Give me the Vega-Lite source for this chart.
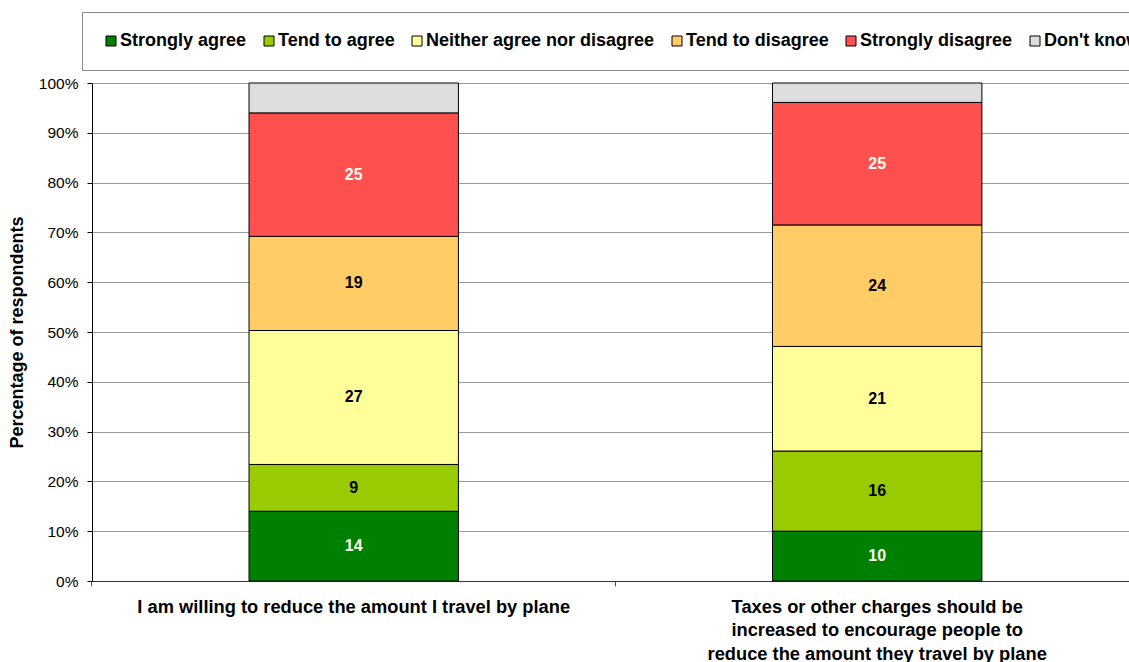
{
  "$schema": "https://vega.github.io/schema/vega-lite/v6.json",
  "autosize": {"type": "none"},
  "padding": {"left": 92, "top": 83, "right": 0, "bottom": 81},
  "width": 1037,
  "height": 498,
  "background": "white",
  "config": {
    "view": {"stroke": null},
    "font": "Liberation Sans"
  },
  "data": {
    "values": [
      {"statement": "I am willing to reduce the amount I travel by plane", "response": "Strongly agree", "ord": 0, "value": 14.0},
      {"statement": "I am willing to reduce the amount I travel by plane", "response": "Tend to agree", "ord": 1, "value": 9.4},
      {"statement": "I am willing to reduce the amount I travel by plane", "response": "Neither agree nor disagree", "ord": 2, "value": 26.9},
      {"statement": "I am willing to reduce the amount I travel by plane", "response": "Tend to disagree", "ord": 3, "value": 18.9},
      {"statement": "I am willing to reduce the amount I travel by plane", "response": "Strongly disagree", "ord": 4, "value": 24.8},
      {"statement": "I am willing to reduce the amount I travel by plane", "response": "Don't know", "ord": 5, "value": 6.0},
      {"statement": "Taxes or other charges should be increased to encourage people to reduce the amount they travel by plane", "response": "Strongly agree", "ord": 0, "value": 10.0},
      {"statement": "Taxes or other charges should be increased to encourage people to reduce the amount they travel by plane", "response": "Tend to agree", "ord": 1, "value": 16.1},
      {"statement": "Taxes or other charges should be increased to encourage people to reduce the amount they travel by plane", "response": "Neither agree nor disagree", "ord": 2, "value": 21.0},
      {"statement": "Taxes or other charges should be increased to encourage people to reduce the amount they travel by plane", "response": "Tend to disagree", "ord": 3, "value": 24.4},
      {"statement": "Taxes or other charges should be increased to encourage people to reduce the amount they travel by plane", "response": "Strongly disagree", "ord": 4, "value": 24.6},
      {"statement": "Taxes or other charges should be increased to encourage people to reduce the amount they travel by plane", "response": "Don't know", "ord": 5, "value": 3.9}
    ]
  },
  "encoding": {
    "x": {
      "field": "statement",
      "type": "nominal",
      "sort": null,
      "scale": {"paddingInner": 0.6, "paddingOuter": 0.2905, "align": 0.5163},
      "axis": {
        "title": null,
        "labelAngle": 0,
        "labelFont": "Liberation Sans",
        "labelFontSize": 18.3,
        "labelFontWeight": "bold",
        "labelColor": "black",
        "labelLimit": 600,
        "labelPadding": 12,
        "labelLineHeight": 23.5,
        "labelExpr": "indexof(datum.value, 'Taxes') == 0 ? ['Taxes or other charges should be', 'increased to encourage people to', 'reduce the amount they travel by plane'] : datum.label",
        "bandPosition": -0.75,
        "tickSize": 5,
        "tickColor": "#555555",
        "domainColor": "#333333",
        "grid": false
      }
    }
  },
  "layer": [
    {
      "mark": {"type": "bar", "stroke": "black", "strokeWidth": 1},
      "encoding": {
        "y": {
          "field": "value",
          "type": "quantitative",
          "stack": "zero",
          "scale": {"domain": [0, 100], "nice": false},
          "axis": {
            "title": "Percentage of respondents",
            "titleFont": "Liberation Sans",
            "titleFontSize": 18,
            "titleFontWeight": "bold",
            "titleColor": "black",
            "titleX": -75,
            "titleY": 249,
            "titleAngle": -90,
            "titleAlign": "center",
            "titleBaseline": "middle",
            "values": [0, 10, 20, 30, 40, 50, 60, 70, 80, 90, 100],
            "labelExpr": "datum.value + '%'",
            "labelFont": "Liberation Sans",
            "labelFontSize": 15.5,
            "labelColor": "black",
            "labelPadding": 9,
            "tickSize": 5,
            "tickColor": "black",
            "domainColor": "black",
            "grid": true,
            "gridColor": "#999999",
            "gridWidth": 1
          }
        },
        "order": {"field": "ord", "type": "quantitative", "sort": "ascending"},
        "color": {
          "field": "response",
          "type": "nominal",
          "scale": {
            "domain": ["Strongly agree", "Tend to agree", "Neither agree nor disagree", "Tend to disagree", "Strongly disagree", "Don't know"],
            "range": ["#008000", "#99CC00", "#FFFF99", "#FFCC66", "#FF5050", "#DDDDDD"]
          },
          "legend": {
            "title": null,
            "orient": "none",
            "direction": "horizontal",
            "legendX": -10,
            "legendY": -71,
            "padding": 20,
            "fillColor": "white",
            "strokeColor": "#888888",
            "symbolType": "square",
            "symbolSize": 100,
            "symbolStrokeColor": "black",
            "symbolStrokeWidth": 1,
            "symbolOpacity": 1,
            "labelFont": "Liberation Sans",
            "labelFontSize": 18,
            "labelFontWeight": "bold",
            "labelColor": "black",
            "labelOffset": 0,
            "labelLimit": 600,
            "columnPadding": 13
          }
        }
      }
    },
    {
      "mark": {"type": "text", "font": "Liberation Sans", "fontSize": 16, "fontWeight": "bold", "baseline": "middle", "align": "center"},
      "encoding": {
        "y": {"field": "value", "type": "quantitative", "stack": "zero", "bandPosition": 0.5},
        "order": {"field": "ord", "type": "quantitative", "sort": "ascending"},
        "detail": {"field": "response", "type": "nominal"},
        "text": {"condition": {"test": "datum.response == \"Don't know\"", "value": ""}, "field": "value", "type": "quantitative", "format": ".0f"},
        "color": {
          "condition": {"test": "datum.response == 'Strongly agree' || datum.response == 'Strongly disagree'", "value": "#FFFFF0"},
          "value": "black"
        }
      }
    }
  ]
}
